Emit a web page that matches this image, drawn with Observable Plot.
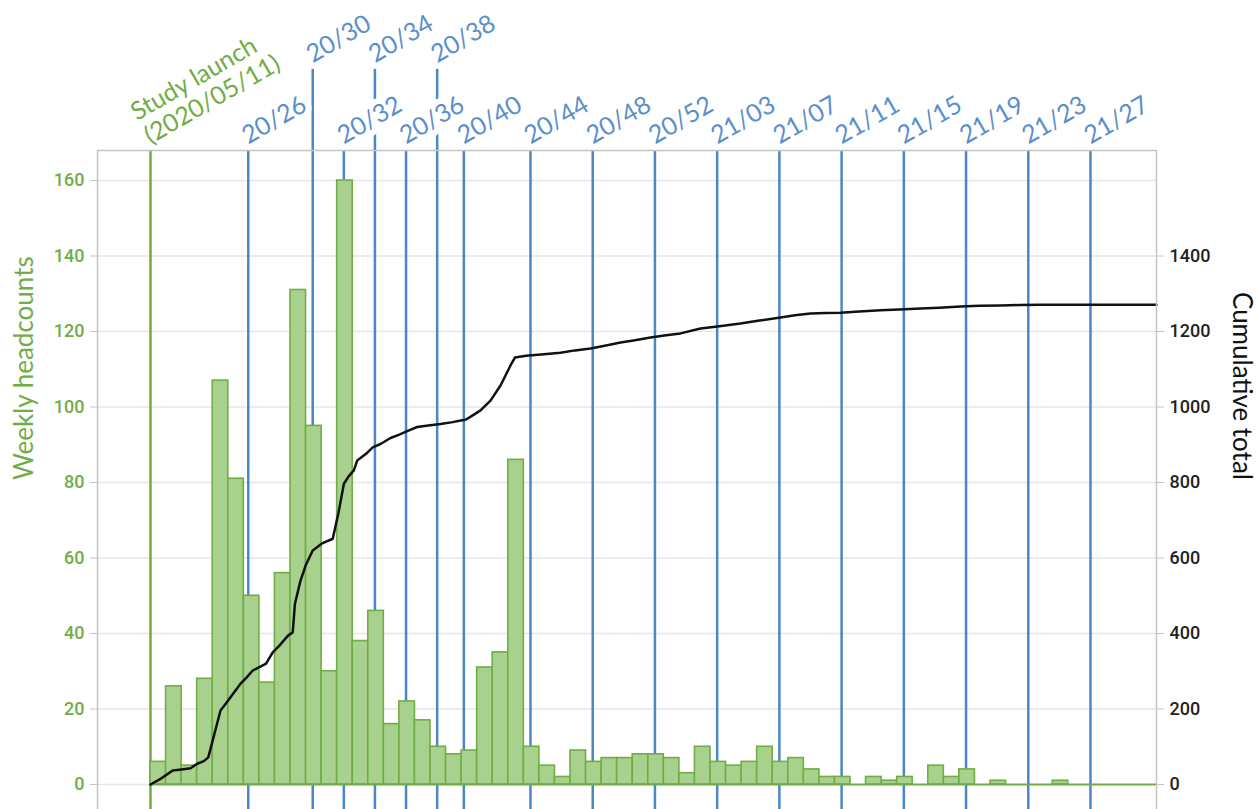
<!DOCTYPE html>
<html><head><meta charset="utf-8">
<script src="https://cdn.jsdelivr.net/npm/d3@7"></script>
<script src="https://cdn.jsdelivr.net/npm/@observablehq/plot@0.6"></script>
<style>
html,body{margin:0;padding:0;background:#fff;overflow:hidden}
</style></head><body><div id="chart"></div>
<script>
// ---- data ----
const launchDate = "2020-05-11";
const launchLabel = "Study launch\n(2020/05/11)";
// weekly headcounts, one bar per week starting at the launch date
const weeklyHeadcounts = [6,26,5,28,107,81,50,27,56,131,95,30,160,38,46,16,22,17,10,8,9,31,35,86,10,5,2,9,6,7,7,8,8,7,3,10,6,5,6,10,6,7,4,2,2,0,2,1,2,0,5,2,4,0,1,0,0,0,1,0,0,0,0,0,0];
// week markers (ISO year/week) and the dates where their lines sit
const markerLabels = ["20/26","20/30","20/32","20/34","20/36","20/38","20/40","20/44","20/48","20/52","21/03","21/07","21/11","21/15","21/19","21/23","21/27"];
const markerDates  = ["2020-06-24","2020-07-23","2020-08-06","2020-08-20","2020-09-03","2020-09-17","2020-09-29","2020-10-29","2020-11-26","2020-12-24","2021-01-21","2021-02-18","2021-03-18","2021-04-15","2021-05-13","2021-06-10","2021-07-08"];
const markerTier   = [0,1,0,1,0,1,0,0,0,0,0,0,0,0,0,0,0];
// cumulative total (days since launch, total)
const cumulativeDays   = [0,4.5,10,14,18,21,24,26,28,31.5,34,36,40.5,43,46,49,52,55,58,62,64,65,67.5,70,73,77,82,84.5,87,89,91.5,93,97,100,103.5,108,112,115.5,120,125,130.5,136,142,145,148.5,153,157.5,162,164,169,177,184.5,191,198,205,211.5,218,225,232,238.5,247.5,256,265.5,274,283.5,290,297,304,310.5,319,328.5,337,346.5,355,364.5,373,382.5,391,400.5,420,452.7];
const cumulativeTotals = [0,15,37,40,43,55,62,72,117,196,215,231,267,282,302,311,320,350,368,395,403,479,540,583,620,638,651,717,796,815,832,858,876,893,902,918,927,936,947,951,955,960,967,978,991,1017,1057,1110,1131,1136,1140,1144,1150,1155,1163,1171,1177,1184,1190,1195,1208,1214,1221,1229,1237,1243,1248,1249,1250,1253,1256,1258,1261,1263,1266,1268,1269,1270,1271,1271,1271];
const leftTicks  = [0,20,40,60,80,100,120,140,160];
const rightTicks = [0,200,400,600,800,1000,1200,1400];

// ---- build tables ----
const DAY = 864e5;
const t0 = new Date(launchDate + "T00:00:00Z");
const dayOf = s => (new Date(s + "T00:00:00Z") - t0) / DAY;
const bars = weeklyHeadcounts.map((v, i) => ({start: i * 7, end: i * 7 + 7, v}));
const markers = markerLabels.map((label, i) => ({label, day: dayOf(markerDates[i]), tier: markerTier[i]}));
const cum = cumulativeDays.map((d, i) => ({day: d, total: cumulativeTotals[i]}));
const launch = [{day: dayOf(launchDate), label: launchLabel}];

// ---- style / layout ----
const RATIO = 10;               // right axis = 10 x left axis
const XD = [-23.85, 452.7];
const YD = [-6.62, 167.95];
const TIER_TOP = 189.5;
const GREEN = "#70ad47", LIGHT = "#a9d18e", BLUE = "#4a87c7", BLUE_TXT = "#5a8fcb", FRAME = "#c4c4c4";
const tickFont = {fontFamily: "Roboto", fontWeight: 500, fontSize: 18};

const chart = Plot.plot({
  width: 1257, height: 809,
  marginLeft: 97, marginRight: 101, marginTop: 150, marginBottom: 0,
  x: {type: "linear", domain: XD, axis: null},
  y: {domain: YD, axis: null},
  style: {fontFamily: "Lato", background: "white", overflow: "visible"},
  marks: [
    Plot.gridY(leftTicks, {stroke: "#e6e6e6", strokeOpacity: 1, strokeWidth: 1.5}),
    Plot.ruleX(markers, {x: "day", y1: YD[0], y2: d => d.tier ? TIER_TOP : YD[1], stroke: BLUE, strokeWidth: 2.5}),
    Plot.ruleX(launch, {x: "day", stroke: GREEN, strokeWidth: 2.5}),
    Plot.rectY(bars, {x1: "start", x2: "end", y: "v", fill: LIGHT, stroke: GREEN, strokeWidth: 1.6, clip: true}),
    Plot.ruleY([{y: 0, x1: bars[0].start, x2: bars[bars.length - 1].end}], {y: "y", x1: "x1", x2: "x2", stroke: GREEN, strokeWidth: 2, clip: true}),
    Plot.line(cum, {x: "day", y: d => d.total / RATIO, stroke: "#111", strokeWidth: 2.5}),
    Plot.axisY(leftTicks, {anchor: "left", tickSize: 7, tickPadding: 6, stroke: FRAME, fill: GREEN, label: null, ...tickFont}),
    Plot.axisY(rightTicks.map(t => t / RATIO), {anchor: "right", tickSize: 7, tickPadding: 6, stroke: FRAME, fill: "#222", label: null, tickFormat: d => String(Math.round(d * RATIO)), ...tickFont}),
    Plot.text(["Weekly headcounts"], {text: d => d, frameAnchor: "left", dx: -73, rotate: -90, fill: GREEN, fontSize: 26}),
    Plot.text(["Cumulative total"], {text: d => d, frameAnchor: "right", dx: 85, rotate: 90, fill: "#111", fontSize: 26}),
    Plot.text(markers, {x: "day", y: d => d.tier ? TIER_TOP : YD[1], text: "label", rotate: -30, textAnchor: "start", lineAnchor: "bottom", dy: -6, fill: BLUE_TXT, fontSize: 25, stroke: "white", strokeWidth: 12, paintOrder: "stroke"}),
    Plot.text(launch, {x: "day", y: YD[1], text: "label", rotate: -30, textAnchor: "start", lineAnchor: "bottom", dy: -6, fill: GREEN, fontSize: 25, lineHeight: 1.08, stroke: "white", strokeWidth: 8, paintOrder: "stroke"}),
    Plot.ruleY([YD[1]], {stroke: FRAME, strokeWidth: 1.5}),
    Plot.ruleX(XD, {stroke: FRAME, strokeWidth: 1.5})
  ]
});
document.getElementById("chart").appendChild(chart);
</script></body></html>
